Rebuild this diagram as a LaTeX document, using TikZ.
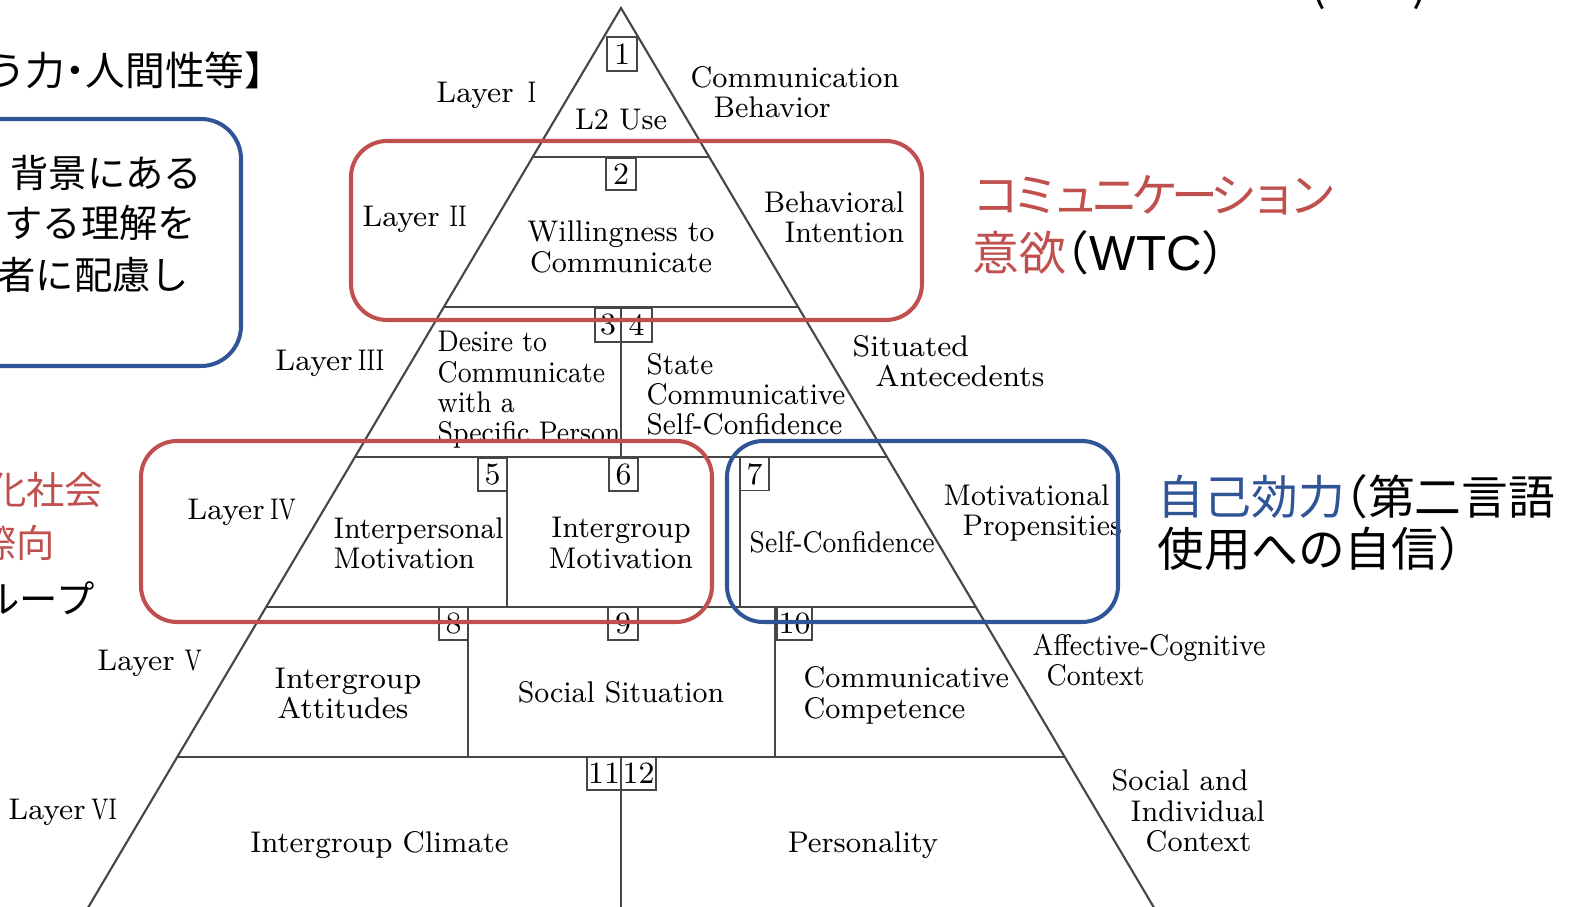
\documentclass[tikz,border=0pt]{standalone}
\usepackage{fontspec}
\usepackage{graphicx}
\setmainfont{Latin Modern Roman}
\newfontfamily\jp{Noto Sans CJK JP}
\newfontfamily\lat{Liberation Sans}
\definecolor{wred}{RGB}{192,80,77}
\definecolor{wblue}{RGB}{47,85,151}
\definecolor{tline}{RGB}{70,70,70}
\newcommand\rn[1]{\makebox[0.9em][c]{\scalebox{0.72}[1]{#1}}}
\newcommand\jlp{\makebox[0.5em][r]{（}}
\newcommand\jrp{\makebox[0.5em][l]{）}}
\begin{document}
\begin{tikzpicture}[x=0.01cm,y=-0.01cm,
  tri/.style={draw=tline,line width=0.6pt},
  numbox/.style={draw=tline,line width=0.5pt,inner sep=0pt,font=\fontsize{8.8}{8.8}\selectfont},
  lbl/.style={inner sep=0pt,font=\fontsize{8.5}{8.6}\selectfont\addfontfeatures{FakeStretch=#1}},
  lbl/.default=0.95,
  redbox/.style={draw=wred,line width=1.15pt,rounded corners=0.36cm},
  bluebox/.style={draw=wblue,line width=1.15pt,rounded corners=0.36cm},
  jpbig/.style={inner sep=0pt,font=\jp\fontsize{13.3}{13.3}\selectfont},
  jpsmall/.style={inner sep=0pt,font=\jp\fontsize{10.9}{10.9}\selectfont}]
\useasboundingbox (0,0) rectangle (1575,907);
\clip (0,0) rectangle (1575,907);
% triangle
\coordinate (A) at (621,8);
\coordinate (BL) at (57,960);
\coordinate (BR) at (1185,960);
\draw[tri] (BL) -- (A) -- (BR);
\draw[tri] (532.8,157) -- (709.2,157);
\draw[tri] (444,307) -- (798,307);
\draw[tri] (355.2,457) -- (886.8,457);
\draw[tri] (266.4,607) -- (975.6,607);
\draw[tri] (177.6,757) -- (1064.4,757);
\draw[tri] (621,307) -- (621,457);
\draw[tri] (507,457) -- (507,607);
\draw[tri] (740,457) -- (740,607);
\draw[tri] (468,607) -- (468,757);
\draw[tri] (775,607) -- (775,757);
\draw[tri] (621,757) -- (621,910);
% number boxes
\node[numbox,minimum width=0.30cm,minimum height=0.34cm] (n1) at (622,54) {1};
\node[numbox,minimum width=0.30cm,minimum height=0.32cm] (n2) at (621,174) {2};
\node[numbox,minimum width=0.26cm,minimum height=0.34cm] (n3) at (608,325) {3};
\node[numbox,minimum width=0.31cm,minimum height=0.34cm] (n4) at (636.5,325) {4};
\node[numbox,minimum width=0.29cm,minimum height=0.33cm] (n5) at (492.5,474.5) {5};
\node[numbox,minimum width=0.29cm,minimum height=0.33cm] (n6) at (623.5,474.5) {6};
\node[numbox,minimum width=0.29cm,minimum height=0.33cm] (n7) at (754.5,474) {7};
\node[numbox,minimum width=0.29cm,minimum height=0.33cm] (n8) at (453.5,623.5) {8};
\node[numbox,minimum width=0.30cm,minimum height=0.33cm] (n9) at (623,623.5) {9};
\node[numbox,minimum width=0.35cm,minimum height=0.33cm] (n10) at (794.5,623.5) {10};
\node[numbox,minimum width=0.34cm,minimum height=0.33cm] (n11) at (604,773.5) {11};
\node[numbox,minimum width=0.35cm,minimum height=0.33cm] (n12) at (638.5,773.5) {12};
% labels
\node[lbl=1] (layer1) at (491,95) {Layer\,\rn{I}};
\node[lbl] (l2use) at (621,120) {L2 Use};
\node[lbl,anchor=west,align=left] (combeh) at (690,92) {Communication\\\hspace*{2.3mm}Behavior};
\node[lbl=1] (layer2) at (417,219) {Layer\,\rn{II}};
\node[lbl,align=center] (wtc) at (621,247) {Willingness to\\Communicate};
\node[lbl,anchor=east,align=right] (behint) at (905,217) {Behavioral\\Intention};
\node[lbl=1] (layer3) at (330,363) {Layer\,\rn{III}};
\node[lbl=0.875,anchor=west,align=left] (desire) at (437,390) {Desire to\\Communicate\\with a\\Specific Person};
\node[lbl=0.92,anchor=west,align=left] (state) at (646,394.5) {State\\Communicative\\Self-Confidence};
\node[lbl=1,anchor=west,align=left] (situated) at (852,361) {Situated\\\hspace*{2.3mm}Antecedents};
\node[lbl=1] (layer4) at (242,512) {Layer\,\rn{IV}};
\node[lbl=0.93,anchor=west,align=left] (interp) at (333,543) {Interpersonal\\Motivation};
\node[lbl,align=center] (intergm) at (621,543) {Intergroup\\Motivation};
\node[lbl=0.87,anchor=west] (selfc) at (749,542) {Self-Confidence};
\node[lbl=0.94,anchor=west,align=left] (motprop) at (943,513) {Motivational\\\hspace*{1.9mm}Propensities};
\node[lbl=1] (layer5) at (152,663) {Layer\,\rn{V}};
\node[lbl=1,anchor=west,align=left] (intatt) at (274,693.5) {Intergroup\\\hspace*{0.3mm}Attitudes};
\node[lbl=0.94] (socsit) at (621,692) {Social Situation};
\node[lbl,anchor=west,align=left] (comcomp) at (803,695.5) {Communicative\\Competence};
\node[lbl=0.88,anchor=west,align=left] (affcog) at (1032,660) {Affective-Cognitive\\\hspace*{1.4mm}Context};
\node[lbl=1] (layer6) at (63,812) {Layer\,\rn{VI}};
\node[lbl=0.97] (intclim) at (379.5,845) {Intergroup Climate};
\node[lbl=0.97] (personality) at (863,845) {Personality};
\node[lbl,anchor=west,align=left] (socind) at (1111,811) {Social and\\\hspace*{1.9mm}Individual\\\hspace*{3.4mm}Context};
% Japanese texts
\node[jpsmall,anchor=east,font=\jp\fontsize{11.3}{11.3}\selectfont] (jtop) at (285,70) {う力\makebox[0.5em]{・}人間性等】};
\node[jpsmall,anchor=east] (jl1) at (203,173) {背景にある};
\node[jpsmall,anchor=east] (jl2) at (197,223) {する理解を};
\node[jpsmall,anchor=east] (jl3) at (190,275) {者に配慮し};
\node[jpsmall,anchor=east,text=wred] (jr1) at (104,490) {化社会};
\node[jpsmall,anchor=east,text=wred] (jr2) at (56,543) {際向};
\node[jpsmall,anchor=east] (jr3) at (95,598) {ループ};
\node[jpbig,anchor=west,text=wred] (wtc1) at (972,195) {\addfontfeatures{LetterSpace=-15}コミュニケーション};
\node[jpbig,anchor=west] (wtc2) at (972,253) {\textcolor{wred}{意欲}\jlp{\lat\fontsize{14}{14}\selectfont WTC}\jrp};
\node[jpbig,anchor=west] (se1) at (1157,497) {\textcolor{wblue}{自己効力}\jlp 第二言語};
\node[jpbig,anchor=west] (se2) at (1157,549) {使用への自信\jrp};
\node[jpbig] (pl) at (1318,-14) {(};
\node[jpbig] (pr) at (1420,-14) {)};
% rounded boxes
\draw[bluebox,rounded corners=0.4cm] (-60,119) rectangle (241,366);
\draw[redbox] (351,141) rectangle (922,320);
\draw[redbox] (141,441) rectangle (712,622);
\draw[bluebox] (727,441) rectangle (1118,622);
\end{tikzpicture}
\end{document}
